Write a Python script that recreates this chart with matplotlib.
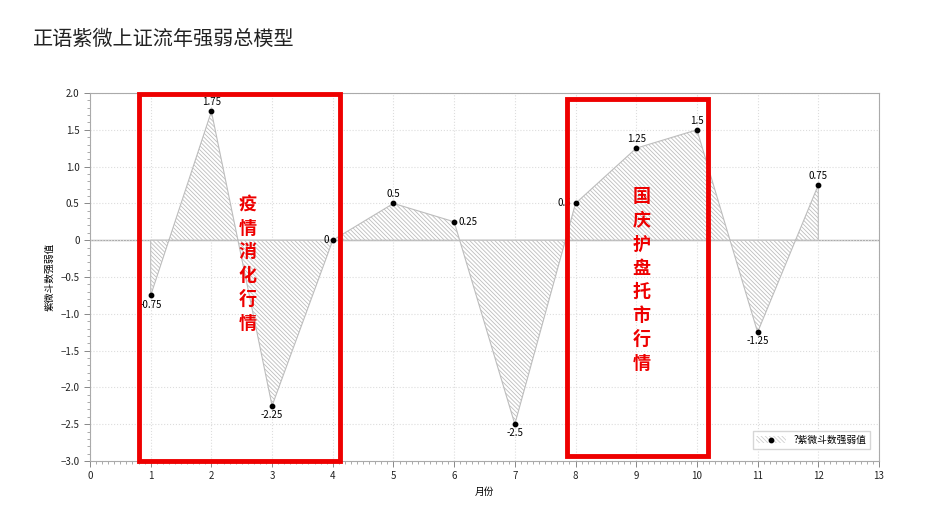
import matplotlib
matplotlib.use("Agg")
import matplotlib.pyplot as plt
from matplotlib.patches import Rectangle
from matplotlib.ticker import MultipleLocator
import numpy as np

plt.rcParams['font.family'] = ['Noto Sans CJK SC', 'DejaVu Sans']
plt.rcParams['hatch.color'] = '#a4a4a4'
plt.rcParams['hatch.linewidth'] = 0.6

months = [1, 2, 3, 4, 5, 6, 7, 8, 9, 10, 11, 12]
values = [-0.75, 1.75, -2.25, 0, 0.5, 0.25, -2.5, 0.5, 1.25, 1.5, -1.25, 0.75]
label_pos = ['below', 'above', 'below', 'left', 'above', 'right',
             'below', 'left', 'above', 'above', 'below', 'above']

title = '正语紫微上证流年强弱总模型'
series_name = '?紫微斗数强弱值'
note1 = '疫情消化行情'
note2 = '国庆护盘托市行情'

fig = plt.figure(figsize=(9.27, 5.22), dpi=100)
ax = fig.add_axes([0.0971, 0.1169, 0.8511, 0.7049])

x = np.array(months)
y = np.array(values)
hatch = '\\' * 8
ax.fill_between(x, y, 0, facecolor='white', edgecolor='#bdbdbd',
                hatch=hatch, linewidth=0.8, interpolate=True, zorder=2)
ax.axhline(0, color='#aaaaaa', lw=1, zorder=1)
ax.scatter(x, y, s=10, color='black', zorder=4)

for xi, yi, p in zip(x, y, label_pos):
    txt = '{:g}'.format(yi)
    if p == 'above':
        ax.annotate(txt, (xi, yi), xytext=(0, 3), textcoords='offset points',
                    ha='center', va='bottom', fontsize=7, zorder=5)
    elif p == 'below':
        ax.annotate(txt, (xi, yi), xytext=(0, -3), textcoords='offset points',
                    ha='center', va='top', fontsize=7, zorder=5)
    elif p == 'left':
        ax.annotate(txt, (xi, yi), xytext=(-3, 0), textcoords='offset points',
                    ha='right', va='center', fontsize=7, zorder=5)
    else:
        ax.annotate(txt, (xi, yi), xytext=(3, 0), textcoords='offset points',
                    ha='left', va='center', fontsize=7, zorder=5)

ax.set_xlim(0, 13)
ax.set_ylim(-3, 2)
ax.xaxis.set_major_locator(MultipleLocator(1))
ax.xaxis.set_minor_locator(MultipleLocator(0.1))
ax.yaxis.set_major_locator(MultipleLocator(0.5))
ax.yaxis.set_minor_locator(MultipleLocator(0.1))
ax.yaxis.set_major_formatter(matplotlib.ticker.FuncFormatter(
    lambda v, p: '0' if abs(v) < 1e-9 else '{:.1f}'.format(v).replace('-', '\u2212')))
ax.tick_params(which='both', labelsize=7, colors='#888888', labelcolor='#222222')
ax.tick_params(which='major', length=4, width=0.7)
ax.tick_params(which='minor', length=2, width=0.5)
ax.grid(True, which='major', color='#dddddd', ls=':', lw=0.8)
for s in ax.spines.values():
    s.set_color('#aaaaaa')
    s.set_linewidth(0.8)

ax.set_xlabel('月份', fontsize=7)
ax.set_ylabel('紫微斗数强弱值', fontsize=7)

# red highlight boxes
ax.add_patch(Rectangle((0.81, -3.0), 3.31, 4.98, fill=False, edgecolor='#ee0000',
                       lw=3.5, zorder=6, clip_on=False))
ax.add_patch(Rectangle((7.86, -2.93), 2.32, 4.85, fill=False, edgecolor='#ee0000',
                       lw=3.5, zorder=6, clip_on=False))
ax.text(2.6, -0.32, '\n'.join(note1), color='#ee0000', fontsize=13, fontweight='bold',
        ha='center', va='center', linespacing=1.32, zorder=7)
ax.text(9.09, -0.54, '\n'.join(note2), color='#ee0000', fontsize=13, fontweight='bold',
        ha='center', va='center', linespacing=1.32, zorder=7)

h1 = ax.fill_between([], [], facecolor='white', edgecolor='#d0d0d0', hatch=hatch, lw=0)
h2 = ax.scatter([], [], s=10, color='black')
ax.legend([(h1, h2)], [series_name], loc='lower right', fontsize=7,
          frameon=True, fancybox=False, edgecolor='#cccccc',
          bbox_to_anchor=(0.995, 0.02), handlelength=3)

fig.text(0.036, 0.925, title, fontsize=14.5, color='#222222', ha='left', va='center')

fig.savefig('out.png', dpi=100)
